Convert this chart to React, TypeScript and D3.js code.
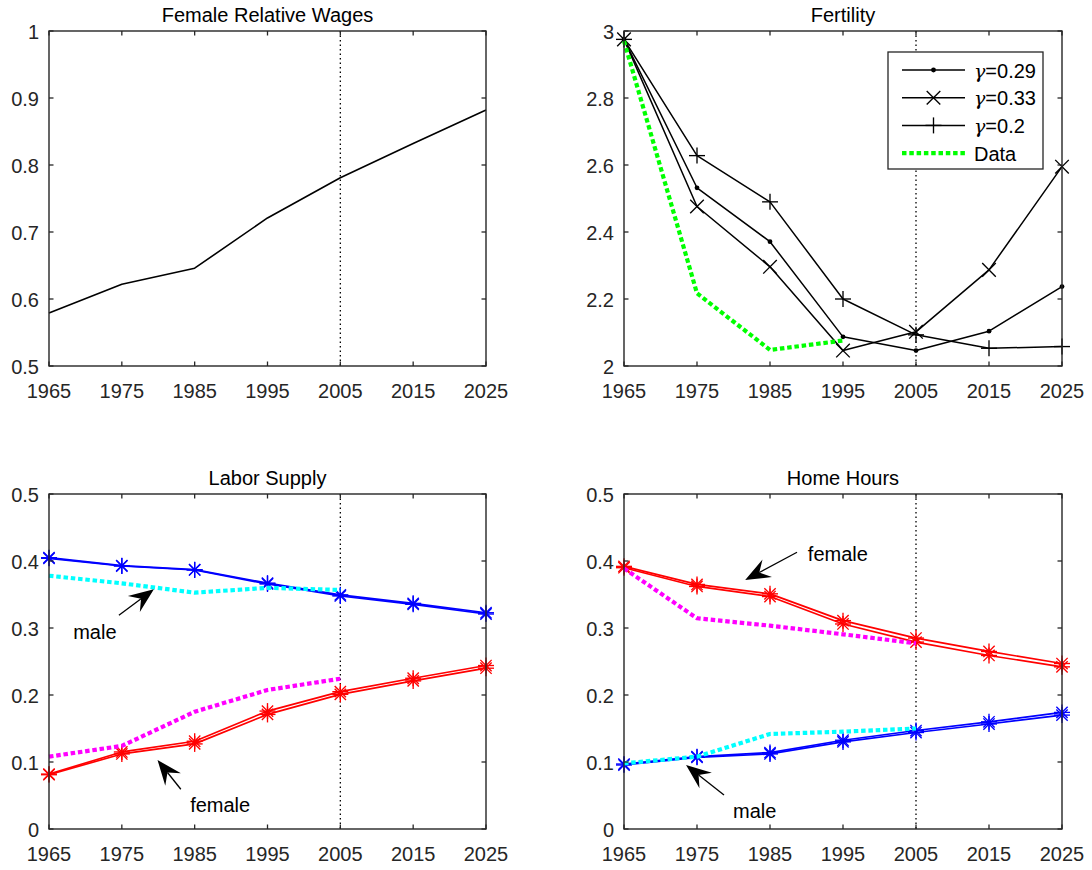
import React from 'react';
import * as d3 from 'd3';

// ---------- data ----------
const years = [1965, 1975, 1985, 1995, 2005, 2015, 2025];
const xTickLabels = ['1965', '1975', '1985', '1995', '2005', '2015', '2025'];
const dataYears = [1965, 1975, 1985, 1995, 2005];
const fertDataYears = [1965, 1975, 1985, 1995];

const wageRatio = [0.579, 0.622, 0.646, 0.721, 0.781, 0.832, 0.882];

const fertG029 = [2.975, 2.532, 2.371, 2.087, 2.046, 2.104, 2.237];
const fertG033 = [2.975, 2.476, 2.296, 2.046, 2.102, 2.287, 2.595];
const fertG020 = [2.975, 2.628, 2.49, 2.2, 2.093, 2.053, 2.058];
const fertData = [2.97, 2.217, 2.048, 2.076];

const labMaleA = [0.404, 0.3925, 0.3866, 0.3657, 0.3478, 0.3353, 0.3209];
const labMaleB = [0.405, 0.393, 0.387, 0.367, 0.3495, 0.3368, 0.3228];
const labFemaleA = [0.081, 0.112, 0.127, 0.171, 0.201, 0.221, 0.24];
const labFemaleB = [0.082, 0.115, 0.131, 0.176, 0.205, 0.225, 0.244];
const labMaleData = [0.378, 0.3667, 0.3527, 0.36, 0.3567];
const labFemaleData = [0.108, 0.124, 0.175, 0.2075, 0.2243];

const homeFemaleA = [0.39, 0.362, 0.347, 0.306, 0.279, 0.259, 0.242];
const homeFemaleB = [0.392, 0.365, 0.351, 0.311, 0.285, 0.265, 0.247];
const homeMaleA = [0.0955, 0.107, 0.112, 0.13, 0.144, 0.1567, 0.17];
const homeMaleB = [0.097, 0.108, 0.114, 0.1325, 0.147, 0.16, 0.174];
const homeFemaleData = [0.389, 0.3145, 0.3035, 0.2906, 0.2771];
const homeMaleData = [0.098, 0.108, 0.1418, 0.1453, 0.15];

const wageTicks = [0.5, 0.6, 0.7, 0.8, 0.9, 1];
const wageTickLabels = ['0.5', '0.6', '0.7', '0.8', '0.9', '1'];
const fertTicks = [2, 2.2, 2.4, 2.6, 2.8, 3];
const fertTickLabels = ['2', '2.2', '2.4', '2.6', '2.8', '3'];
const shareTicks = [0, 0.1, 0.2, 0.3, 0.4, 0.5];
const shareTickLabels = ['0', '0.1', '0.2', '0.3', '0.4', '0.5'];

const legendSymbols = ['γ', 'γ', 'γ', ''];
const legendLabels = ['=0.29', '=0.33', '=0.2', 'Data'];

// ---------- styling ----------
const FONT = '"Liberation Sans", Arial, Helvetica, sans-serif';
const SERIF = '"DejaVu Serif", "Liberation Serif", serif';
const AXC = '#262626';

type Marker = 'none' | 'dot' | 'x' | '+' | '*';
interface Series {
  xs: number[];
  ys: number[];
  color: string;
  width: number;
  dotted?: boolean;
  marker?: Marker;
}
interface Note {
  text: string;
  tx: number; ty: number; // text centre (data)
  ax: number; ay: number; // arrow tail (data)
  hx: number; hy: number; // arrow head (data)
}

function MarkerShape({ type, cx, cy, color }: { type: Marker; cx: number; cy: number; color: string }) {
  const sw = 1.35;
  if (type === 'dot') return <circle cx={cx} cy={cy} r={2.4} fill={color} />;
  if (type === 'x') {
    const r = 6.8;
    return (
      <g stroke={color} strokeWidth={sw}>
        <line x1={cx - r} y1={cy - r} x2={cx + r} y2={cy + r} />
        <line x1={cx - r} y1={cy + r} x2={cx + r} y2={cy - r} />
      </g>
    );
  }
  if (type === '+') {
    const r = 8;
    return (
      <g stroke={color} strokeWidth={sw}>
        <line x1={cx - r} y1={cy} x2={cx + r} y2={cy} />
        <line x1={cx} y1={cy - r} x2={cx} y2={cy + r} />
      </g>
    );
  }
  if (type === '*') {
    const r = 8;
    const d = r * 0.7071;
    return (
      <g stroke={color} strokeWidth={sw}>
        <line x1={cx - r} y1={cy} x2={cx + r} y2={cy} />
        <line x1={cx} y1={cy - r} x2={cx} y2={cy + r} />
        <line x1={cx - d} y1={cy - d} x2={cx + d} y2={cy + d} />
        <line x1={cx - d} y1={cy + d} x2={cx + d} y2={cy - d} />
      </g>
    );
  }
  return null;
}

function Arrow({ x1, y1, x2, y2 }: { x1: number; y1: number; x2: number; y2: number }) {
  const dx = x2 - x1, dy = y2 - y1;
  const len = Math.hypot(dx, dy);
  const ux = dx / len, uy = dy / len;
  const px = -uy, py = ux;
  const L = 25, W = 10, N = 16;
  const bx = x2 - ux * L, by = y2 - uy * L;
  const nx = x2 - ux * N, ny = y2 - uy * N;
  const pts = [
    [x2, y2],
    [bx + px * W, by + py * W],
    [nx, ny],
    [bx - px * W, by - py * W],
  ];
  return (
    <g>
      <line x1={x1} y1={y1} x2={nx} y2={ny} stroke="#000" strokeWidth={1.3} />
      <polygon points={pts.map((p) => p.join(',')).join(' ')} fill="#000" />
    </g>
  );
}

interface PanelProps {
  left: number; top: number; width: number; height: number;
  title: string;
  yDomain: [number, number];
  yTicks: number[];
  yTickLabels: string[];
  series: Series[];
  notes?: Note[];
  legend?: boolean;
}

function Panel(p: PanelProps) {
  const x = d3.scaleLinear().domain([years[0], years[years.length - 1]]).range([p.left, p.left + p.width]);
  const y = d3.scaleLinear().domain(p.yDomain).range([p.top + p.height, p.top]);
  const line = (s: Series) =>
    d3.line<number>().x((_, i) => x(s.xs[i])).y((v) => y(v))(s.ys) || '';
  const tl = 4.5;
  const bottom = p.top + p.height;
  const right = p.left + p.width;

  return (
    <g>
      {/* vertical dotted 2005 line */}
      <line x1={x(2005)} x2={x(2005)} y1={p.top} y2={bottom} stroke="#000" strokeWidth={1.3} strokeDasharray="1.4 3.1" />
      {p.series.map((s, i) => (
        <g key={i}>
          <path d={line(s)} fill="none" stroke={s.color} strokeWidth={s.width}
            strokeDasharray={s.dotted ? '4.5 2.8' : undefined} strokeLinejoin="round" />
          {s.marker && s.marker !== 'none' &&
            s.ys.map((v, j) => <MarkerShape key={j} type={s.marker as Marker} cx={x(s.xs[j])} cy={y(v)} color={s.color} />)}
        </g>
      ))}
      {/* box + ticks */}
      <rect x={p.left} y={p.top} width={p.width} height={p.height} fill="none" stroke={AXC} strokeWidth={1.4} />
      {years.map((t, i) => (
        <g key={'xt' + i}>
          <line x1={x(t)} x2={x(t)} y1={bottom} y2={bottom - tl} stroke={AXC} strokeWidth={1.3} />
          <line x1={x(t)} x2={x(t)} y1={p.top} y2={p.top + tl} stroke={AXC} strokeWidth={1.3} />
          <text x={x(t)} y={bottom + 31.5} textAnchor="middle" fontSize={20} fill={AXC} fontFamily={FONT}>
            {xTickLabels[i]}
          </text>
        </g>
      ))}
      {p.yTicks.map((t, i) => (
        <g key={'yt' + i}>
          <line x1={p.left} x2={p.left + tl} y1={y(t)} y2={y(t)} stroke={AXC} strokeWidth={1.3} />
          <line x1={right} x2={right - tl} y1={y(t)} y2={y(t)} stroke={AXC} strokeWidth={1.3} />
          <text x={p.left - 10} y={y(t) + 7.5} textAnchor="end" fontSize={20} fill={AXC} fontFamily={FONT}>
            {p.yTickLabels[i]}
          </text>
        </g>
      ))}
      <text x={(p.left + right) / 2} y={p.top - 9} textAnchor="middle" fontSize={20} fill="#000" fontFamily={FONT}>
        {p.title}
      </text>
      {p.notes && p.notes.map((n, i) => (
        <g key={'n' + i}>
          <Arrow x1={x(n.ax)} y1={y(n.ay)} x2={x(n.hx)} y2={y(n.hy)} />
          <text x={x(n.tx)} y={y(n.ty) + 7} textAnchor="middle" fontSize={20} fill="#000" fontFamily={FONT}>
            {n.text}
          </text>
        </g>
      ))}
      {p.legend && (
        <g>
          <rect x={888} y={52} width={155} height={117} fill="#fff" stroke={AXC} strokeWidth={1.3} />
          {p.series.map((s, i) => {
            const ly = 70 + i * 27.7;
            return (
              <g key={'lg' + i}>
                <line x1={902} x2={965} y1={ly} y2={ly} stroke={s.color} strokeWidth={s.width}
                  strokeDasharray={s.dotted ? '4.5 2.8' : undefined} />
                {s.marker && s.marker !== 'none' && <MarkerShape type={s.marker} cx={933.5} cy={ly} color={s.color} />}
                <text x={974} y={ly + 7.5} fontSize={20} fill="#000" fontFamily={FONT}>
                  {legendSymbols[i] && <tspan fontFamily={SERIF} fontStyle="italic" fontSize={19}>{legendSymbols[i]}</tspan>}
                  {legendLabels[i]}
                </text>
              </g>
            );
          })}
        </g>
      )}
    </g>
  );
}

export default function App() {
  const L1 = 49, W1 = 437, L2 = 624, W2 = 438, T1 = 31, T2 = 494, H = 335;
  return (
    <svg width={1092} height={870} style={{ position: 'absolute', left: 0, top: 0, background: '#fff' }}
      xmlns="http://www.w3.org/2000/svg">
      <rect x={0} y={0} width={1092} height={870} fill="#fff" />
      <Panel left={L1} top={T1} width={W1} height={H} title="Female Relative Wages"
        yDomain={[0.5, 1]} yTicks={wageTicks} yTickLabels={wageTickLabels}
        series={[{ xs: years, ys: wageRatio, color: '#000', width: 1.6 }]} />
      <Panel left={L2} top={T1} width={W2} height={H} title="Fertility"
        yDomain={[2, 3]} yTicks={fertTicks} yTickLabels={fertTickLabels} legend
        series={[
          { xs: years, ys: fertG029, color: '#000', width: 1.5, marker: 'dot' },
          { xs: years, ys: fertG033, color: '#000', width: 1.5, marker: 'x' },
          { xs: years, ys: fertG020, color: '#000', width: 1.5, marker: '+' },
          { xs: fertDataYears, ys: fertData, color: '#00ff00', width: 4.2, dotted: true },
        ]} />
      <Panel left={L1} top={T2} width={W1} height={H} title="Labor Supply"
        yDomain={[0, 0.5]} yTicks={shareTicks} yTickLabels={shareTickLabels}
        series={[
          { xs: years, ys: labMaleA, color: '#0000ff', width: 1.7, marker: '*' },
          { xs: years, ys: labMaleB, color: '#0000ff', width: 1.7, marker: '*' },
          { xs: years, ys: labFemaleA, color: '#ff0000', width: 1.7, marker: '*' },
          { xs: years, ys: labFemaleB, color: '#ff0000', width: 1.7, marker: '*' },
          { xs: dataYears, ys: labMaleData, color: '#00ffff', width: 4.2, dotted: true },
          { xs: dataYears, ys: labFemaleData, color: '#ff00ff', width: 4.2, dotted: true },
        ]}
        notes={[
          { text: 'male', tx: 1971.3, ty: 0.2945, ax: 1974.6, ay: 0.319, hx: 1979.4, hy: 0.358 },
          { text: 'female', tx: 1988.5, ty: 0.0358, ax: 1983.1, ay: 0.0593, hx: 1979.9, hy: 0.103 },
        ]} />
      <Panel left={L2} top={T2} width={W2} height={H} title="Home Hours"
        yDomain={[0, 0.5]} yTicks={shareTicks} yTickLabels={shareTickLabels}
        series={[
          { xs: years, ys: homeFemaleA, color: '#ff0000', width: 1.7, marker: '*' },
          { xs: years, ys: homeFemaleB, color: '#ff0000', width: 1.7, marker: '*' },
          { xs: years, ys: homeMaleA, color: '#0000ff', width: 1.7, marker: '*' },
          { xs: years, ys: homeMaleB, color: '#0000ff', width: 1.7, marker: '*' },
          { xs: dataYears, ys: homeFemaleData, color: '#ff00ff', width: 4.2, dotted: true },
          { xs: dataYears, ys: homeMaleData, color: '#00ffff', width: 4.2, dotted: true },
        ]}
        notes={[
          { text: 'female', tx: 1994.3, ty: 0.41, ax: 1988.7, ay: 0.413, hx: 1981.6, hy: 0.3716 },
          { text: 'male', tx: 1982.9, ty: 0.0273, ax: 1978.7, ay: 0.0507, hx: 1973.5, hy: 0.0955 },
        ]} />
    </svg>
  );
}
